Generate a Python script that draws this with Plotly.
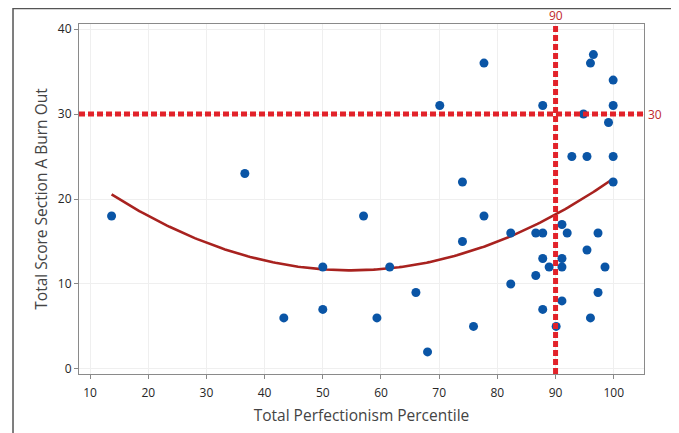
import numpy as np
import plotly.graph_objects as go

# Data
perfectionism = [13.7, 36.6, 43.3, 50.0, 50.0, 57.0, 59.3, 61.5, 66.0, 68.0,
                 70.1, 74.0, 74.0, 75.9, 77.7, 77.7, 82.3, 82.3, 86.6, 86.6,
                 87.8, 87.8, 87.8, 87.8, 88.9, 90.1, 91.1, 91.1, 91.1, 91.1,
                 92.0, 92.8, 94.8, 95.4, 95.4, 96.0, 96.0, 96.5, 97.3, 97.3,
                 98.5, 99.1, 99.9, 99.9, 99.9, 99.9]
burnout = [18, 23, 6, 12, 7, 18, 6, 12, 9, 2,
           31, 15, 22, 5, 18, 36, 16, 10, 16, 11,
           16, 13, 7, 31, 12, 5, 17, 13, 12, 8,
           16, 25, 30, 14, 25, 6, 36, 37, 16, 9,
           12, 29, 34, 31, 25, 22]

ref_x = 90
ref_y = 30
x_ticks = [10, 20, 30, 40, 50, 60, 70, 80, 90, 100]
y_ticks = [0, 10, 20, 30, 40]

x_title = "Total Perfectionism Percentile"
y_title = "Total Score Section A Burn Out"

# quadratic regression fit
coef = np.polyfit(perfectionism, burnout, 2)
fx = np.linspace(min(perfectionism), max(perfectionism), 200)
fy = np.polyval(coef, fx)

FONT = "Open Sans"
DASH_RED = "#e2222a"
LABEL_RED = "#c0282e"

fig = go.Figure()
fig.add_trace(go.Scatter(x=fx, y=fy, mode="lines",
                         line=dict(color="#a8221f", width=2.6),
                         hoverinfo="skip", showlegend=False))
fig.add_trace(go.Scatter(x=perfectionism, y=burnout, mode="markers",
                         marker=dict(color="#0a55a6", size=9, line=dict(width=0)),
                         showlegend=False))

# reference lines
fig.add_shape(type="line", xref="paper", yref="y", x0=0, x1=1, y0=ref_y, y1=ref_y,
              line=dict(color=DASH_RED, width=5, dash="6px,3px"), layer="above")
fig.add_shape(type="line", xref="x", yref="paper", x0=ref_x, x1=ref_x, y0=0, y1=1,
              line=dict(color=DASH_RED, width=5, dash="6px,3px"), layer="above")
fig.add_annotation(x=ref_x, y=1, xref="x", yref="paper", text=str(ref_x),
                   showarrow=False, yanchor="bottom", yshift=-2,
                   font=dict(family=FONT, size=12, color=LABEL_RED))
fig.add_annotation(x=1, y=ref_y, xref="paper", yref="y", text=str(ref_y),
                   showarrow=False, xanchor="left", xshift=2,
                   font=dict(family=FONT, size=12, color=LABEL_RED))

# outer frame (open at bottom); plot domain is 565x350 px
fig.add_shape(type="path", xref="paper", yref="paper",
              path="M -0.1168,-0.3 L -0.1168,1.0443 L 1.0513,1.0443 L 1.0513,-0.3",
              line=dict(color="#555555", width=1.5), layer="below")

fig.update_layout(
    width=671, height=425,
    margin=dict(l=71, r=35, t=16, b=59, autoexpand=False),
    paper_bgcolor="white", plot_bgcolor="white",
    font=dict(family=FONT, color="#333333"),
    xaxis=dict(range=[8.1, 105.2], tickvals=x_ticks, ticks="outside", ticklen=4,
               tickcolor="#888888", showline=True, mirror=True, linecolor="#8a8a8a",
               linewidth=1.2, showgrid=True, gridcolor="#efefef", zeroline=False,
               automargin=False, ticklabelstandoff=3,
               tickfont=dict(size=12, color="#262626"),
               title=dict(text=x_title, font=dict(size=15.5, color="#444444"), standoff=10)),
    yaxis=dict(range=[-0.6, 40.6], tickvals=y_ticks, ticks="outside", ticklen=4,
               tickcolor="#888888", showline=True, mirror=True, linecolor="#8a8a8a",
               linewidth=1.2, showgrid=True, gridcolor="#efefef", zeroline=False,
               automargin=False,
               tickfont=dict(size=12, color="#262626"),
               title=dict(text=y_title, font=dict(size=15.5, color="#444444"), standoff=6)),
)

fig.write_html("out.html")
